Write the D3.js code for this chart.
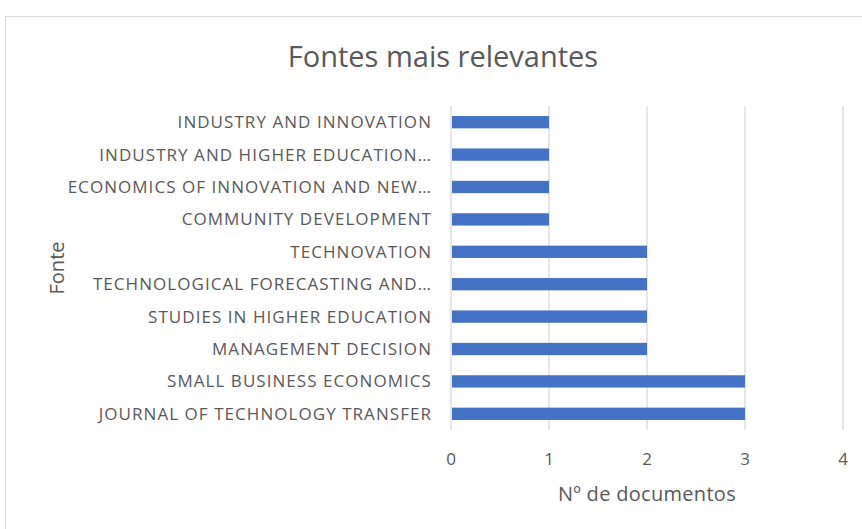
<!DOCTYPE html>
<html>
<head>
<meta charset="utf-8">
<script src="https://cdn.jsdelivr.net/npm/d3@7"></script>
<style>
  html, body { margin: 0; padding: 0; background: #fff; }
  svg text { font-family: "Open Sans", sans-serif; fill: #595959; }
</style>
</head>
<body>
<div id="chart"></div>
<script>
// sources, top to bottom as shown
const fontes = [
    'INDUSTRY AND INNOVATION',
    'INDUSTRY AND HIGHER EDUCATION…',
    'ECONOMICS OF INNOVATION AND NEW…',
    'COMMUNITY DEVELOPMENT',
    'TECHNOVATION',
    'TECHNOLOGICAL FORECASTING AND…',
    'STUDIES IN HIGHER EDUCATION',
    'MANAGEMENT DECISION',
    'SMALL BUSINESS ECONOMICS',
    'JOURNAL OF TECHNOLOGY TRANSFER'
];
const documentos = [1, 1, 1, 1, 2, 2, 2, 2, 3, 3];
const xTicks = [0, 1, 2, 3, 4];

const width = 862, height = 529;
const margin = { top: 106, left: 451, right: 19, bottom: 99 };

const svg = d3.select('#chart').append('svg')
    .attr('width', width)
    .attr('height', height);

// chart frame
svg.append('rect')
    .attr('x', 5.5).attr('y', 16.5)
    .attr('width', width + 10).attr('height', height + 10)
    .attr('fill', '#fff')
    .attr('stroke', '#d9d9d9');

const x = d3.scaleLinear()
    .domain([0, 4])
    .range([margin.left, margin.left + 392]);

const y = d3.scaleBand()
    .domain(fontes)
    .range([margin.top, height - margin.bottom])
    .paddingInner(0.62)
    .paddingOuter(0.31);

// gridlines
svg.append('g')
    .selectAll('line')
    .data(xTicks)
    .enter().append('line')
    .attr('x1', d => x(d)).attr('x2', d => x(d))
    .attr('y1', margin.top).attr('y2', height - margin.bottom)
    .attr('stroke', '#d9d9d9')
    .attr('stroke-width', 1.3);

// bars
svg.append('g')
    .selectAll('rect')
    .data(fontes)
    .enter().append('rect')
    .attr('x', x(0) + 1)
    .attr('y', d => y(d))
    .attr('width', (d, i) => x(documentos[i]) - x(0) - 1)
    .attr('height', y.bandwidth())
    .attr('fill', '#4472c4');

// category labels
svg.append('g')
    .selectAll('text')
    .data(fontes)
    .enter().append('text')
    .attr('x', margin.left - 19)
    .attr('y', d => y(d) + y.bandwidth() / 2)
    .attr('dy', '0.35em')
    .attr('text-anchor', 'end')
    .style('font-size', '17px')
    .style('letter-spacing', '1.05px')
    .text(d => d);

// x tick labels
svg.append('g')
    .selectAll('text')
    .data(xTicks)
    .enter().append('text')
    .attr('x', d => x(d))
    .attr('y', 465)
    .attr('text-anchor', 'middle')
    .style('font-size', '17px')
    .text(d => d);

// titles
svg.append('text')
    .attr('x', 443).attr('y', 67)
    .attr('text-anchor', 'middle')
    .style('font-size', '29px')
    .text('Fontes mais relevantes');

svg.append('text')
    .attr('x', x(2)).attr('y', 501)
    .attr('text-anchor', 'middle')
    .style('font-size', '20px')
    .style('letter-spacing', '0.3px')
    .text('Nº de documentos');

svg.append('text')
    .attr('transform', 'translate(64,268) rotate(-90)')
    .attr('text-anchor', 'middle')
    .style('font-size', '20px')
    .text('Fonte');
</script>
</body>
</html>
